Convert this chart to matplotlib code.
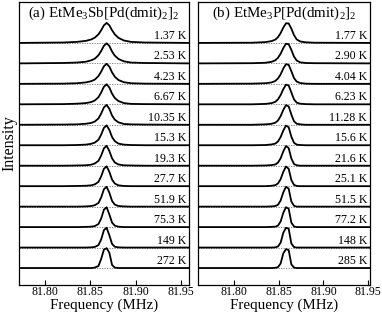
import matplotlib
matplotlib.use("Agg")
import matplotlib.pyplot as plt

plt.rcParams["font.family"] = ["Liberation Serif", "DejaVu Serif"]
plt.rcParams["mathtext.fontset"] = "custom"
plt.rcParams["mathtext.rm"] = "Liberation Serif"
plt.rcParams["mathtext.it"] = "Liberation Serif:italic"

# ---- panel (a) EtMe3Sb[Pd(dmit)2]2 ----
freq_a = [81.771, 81.82, 81.835, 81.845, 81.851, 81.855, 81.859, 81.862, 81.865,
          81.868, 81.871, 81.874, 81.877, 81.881, 81.887, 81.895, 81.91, 81.959]
temps_a = ["1.37 K", "2.53 K", "4.23 K", "6.67 K", "10.35 K", "15.3 K",
           "19.3 K", "27.7 K", "51.9 K", "75.3 K", "149 K", "272 K"]
spec_a = [
    [0.0, 0.02, 0.05, 0.10, 0.17, 0.26, 0.42, 0.62, 0.86, 0.98, 0.86, 0.62, 0.42, 0.25, 0.12, 0.05, 0.02, 0.0],
    [0.0, 0.02, 0.04, 0.08, 0.15, 0.23, 0.40, 0.61, 0.86, 0.98, 0.85, 0.58, 0.38, 0.22, 0.10, 0.04, 0.02, 0.0],
    [0.0, 0.01, 0.03, 0.07, 0.13, 0.21, 0.38, 0.60, 0.86, 0.98, 0.84, 0.56, 0.35, 0.19, 0.08, 0.03, 0.01, 0.0],
    [0.0, 0.01, 0.03, 0.06, 0.11, 0.19, 0.35, 0.58, 0.86, 0.98, 0.82, 0.52, 0.31, 0.16, 0.06, 0.02, 0.01, 0.0],
    [0.0, 0.01, 0.02, 0.05, 0.09, 0.16, 0.31, 0.55, 0.85, 0.97, 0.78, 0.45, 0.25, 0.12, 0.04, 0.02, 0.01, 0.0],
    [0.0, 0.0, 0.01, 0.03, 0.07, 0.13, 0.27, 0.52, 0.85, 0.97, 0.75, 0.40, 0.20, 0.08, 0.03, 0.01, 0.0, 0.0],
    [0.0, 0.0, 0.01, 0.02, 0.05, 0.11, 0.24, 0.50, 0.85, 0.97, 0.72, 0.36, 0.16, 0.06, 0.02, 0.01, 0.0, 0.0],
    [0.0, 0.0, 0.01, 0.02, 0.04, 0.09, 0.21, 0.48, 0.85, 0.97, 0.70, 0.32, 0.13, 0.04, 0.01, 0.0, 0.0, 0.0],
    [0.0, 0.0, 0.0, 0.01, 0.03, 0.07, 0.18, 0.45, 0.85, 0.97, 0.68, 0.28, 0.10, 0.03, 0.01, 0.0, 0.0, 0.0],
    [0.0, 0.0, 0.0, 0.01, 0.02, 0.05, 0.15, 0.42, 0.85, 0.97, 0.62, 0.22, 0.07, 0.02, 0.0, 0.0, 0.0, 0.0],
    [0.0, 0.0, 0.0, 0.0, 0.01, 0.03, 0.12, 0.40, 0.85, 0.97, 0.60, 0.18, 0.04, 0.01, 0.0, 0.0, 0.0, 0.0],
    [0.0, 0.0, 0.0, 0.0, 0.0, 0.02, 0.10, 0.45, 0.90, 0.97, 0.75, 0.15, 0.02, 0.0, 0.0, 0.0, 0.0, 0.0],
]

# ---- panel (b) EtMe3P[Pd(dmit)2]2 ----
freq_b = [81.76, 81.82, 81.835, 81.842, 81.846, 81.849, 81.852, 81.855, 81.858,
          81.861, 81.864, 81.867, 81.870, 81.874, 81.88, 81.89, 81.952]
temps_b = ["1.77 K", "2.90 K", "4.04 K", "6.23 K", "11.28 K", "15.6 K",
           "21.6 K", "25.1 K", "51.5 K", "77.2 K", "148 K", "285 K"]
spec_b = [
    [0.0, 0.01, 0.04, 0.09, 0.16, 0.28, 0.48, 0.75, 0.96, 0.95, 0.70, 0.38, 0.17, 0.07, 0.03, 0.01, 0.0],
    [0.0, 0.01, 0.03, 0.08, 0.15, 0.27, 0.47, 0.75, 0.96, 0.94, 0.66, 0.33, 0.14, 0.05, 0.02, 0.01, 0.0],
    [0.0, 0.01, 0.03, 0.07, 0.14, 0.26, 0.46, 0.75, 0.96, 0.93, 0.62, 0.28, 0.11, 0.04, 0.01, 0.0, 0.0],
    [0.0, 0.0, 0.02, 0.06, 0.12, 0.24, 0.45, 0.74, 0.96, 0.92, 0.58, 0.24, 0.08, 0.03, 0.01, 0.0, 0.0],
    [0.0, 0.0, 0.02, 0.05, 0.10, 0.21, 0.42, 0.73, 0.96, 0.90, 0.50, 0.17, 0.05, 0.02, 0.0, 0.0, 0.0],
    [0.0, 0.0, 0.01, 0.04, 0.08, 0.18, 0.40, 0.72, 0.96, 0.88, 0.42, 0.12, 0.03, 0.01, 0.0, 0.0, 0.0],
    [0.0, 0.0, 0.01, 0.03, 0.06, 0.15, 0.36, 0.70, 0.96, 0.86, 0.35, 0.08, 0.02, 0.0, 0.0, 0.0, 0.0],
    [0.0, 0.0, 0.0, 0.02, 0.05, 0.13, 0.34, 0.70, 0.96, 0.85, 0.30, 0.06, 0.01, 0.0, 0.0, 0.0, 0.0],
    [0.0, 0.0, 0.0, 0.01, 0.03, 0.09, 0.30, 0.70, 0.97, 0.88, 0.25, 0.04, 0.0, 0.0, 0.0, 0.0, 0.0],
    [0.0, 0.0, 0.0, 0.01, 0.02, 0.07, 0.27, 0.70, 0.97, 0.90, 0.22, 0.03, 0.0, 0.0, 0.0, 0.0, 0.0],
    [0.0, 0.0, 0.0, 0.0, 0.01, 0.05, 0.24, 0.72, 0.97, 0.92, 0.20, 0.02, 0.0, 0.0, 0.0, 0.0, 0.0],
    [0.0, 0.0, 0.0, 0.0, 0.01, 0.04, 0.22, 0.72, 0.92, 0.88, 0.18, 0.02, 0.0, 0.0, 0.0, 0.0, 0.0],
]

xticks = [81.80, 81.85, 81.90, 81.95]

W, H = 382, 314
fig = plt.figure(figsize=(W / 100, H / 100), dpi=100)
ax_a = fig.add_axes([19 / W, (H - 285) / H, 170 / W, 283 / H])
ax_b = fig.add_axes([198 / W, (H - 285) / H, 171.5 / W, 283 / H])

panels = [
    (ax_a, freq_a, spec_a, temps_a, (81.7712, 81.959), r"(a) EtMe$_3$Sb[Pd(dmit)$_2$]$_2$"),
    (ax_b, freq_b, spec_b, temps_b, (81.7595, 81.9515), r"(b) EtMe$_3$P[Pd(dmit)$_2$]$_2$"),
]

for ax, freq, spec, temps, xlim, title in panels:
    n = len(spec)
    for i, (y, t) in enumerate(zip(spec, temps)):
        off = n - 1 - i
        ax.axhline(off, color="0.45", lw=0.6, ls=(0, (1.5, 1.5)), zorder=1)
        ax.plot(freq, [v + off for v in y], color="black", lw=1.3, zorder=2)
        ax.text(0.985, off + 0.05, t, transform=ax.get_yaxis_transform(),
                ha="right", va="bottom", fontsize=8.6)
    ax.set_xlim(*xlim)
    ax.set_ylim(-0.83, 13.0)
    ax.set_yticks([])
    ax.set_xticks(xticks)
    ax.set_xticklabels([f"{v:.2f}" for v in xticks], fontsize=8.6)
    ax.tick_params(axis="x", direction="in", length=3.5, width=0.8, pad=1)
    for s in ax.spines.values():
        s.set_linewidth(0.9)
    ax.text(0.5, 0.99, title, transform=ax.transAxes, ha="center", va="top", fontsize=10.8)
    pos = ax.get_position()
    fig.text((pos.x0 + pos.x1) / 2, 1.5 / H, "Frequency (MHz)", ha="center", va="bottom",
             fontsize=10.8)

ax_a.set_ylabel("Intensity", fontsize=11.5, labelpad=1)

fig.savefig("out.png", dpi=100)
